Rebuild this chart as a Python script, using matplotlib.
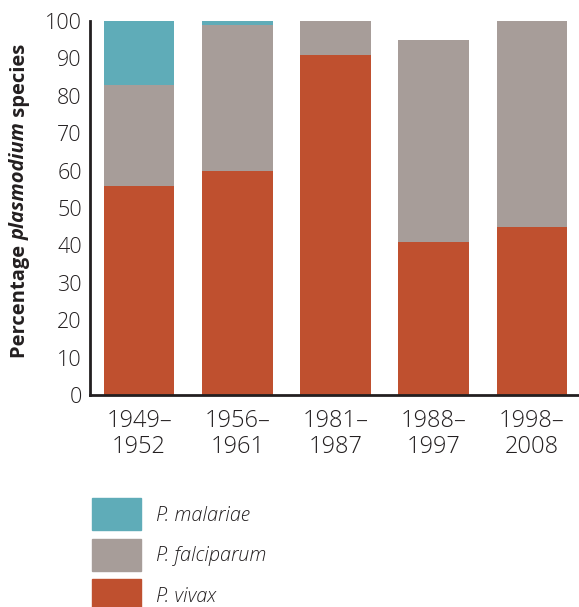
import matplotlib
matplotlib.use("Agg")
import matplotlib.pyplot as plt
from matplotlib.patches import Rectangle
import numpy as np

# data
periods = ["1949–\n1952", "1956–\n1961", "1981–\n1987", "1988–\n1997", "1998–\n2008"]
vivax = [56, 60, 91, 41, 45]
falciparum = [27, 39, 9, 54, 55]
malariae = [17, 1, 0, 0, 0]

species = ["P. malariae", "P. falciparum", "P. vivax"]
colors = {"P. vivax": "#bf502f", "P. falciparum": "#a79d99", "P. malariae": "#5facb8"}
ink = "#231f20"

plt.rcParams["font.family"] = ["Open Sans", "DejaVu Sans"]

fig = plt.figure(figsize=(5.79, 6.07), dpi=100)
ax = fig.add_axes([90 / 579, 1 - 395 / 607, 1 - 90 / 579, 374 / 607])

x = np.arange(len(periods))
w = 0.72
ax.bar(x, vivax, w, color=colors["P. vivax"])
ax.bar(x, falciparum, w, bottom=vivax, color=colors["P. falciparum"])
bottom2 = np.array(vivax) + np.array(falciparum)
ax.bar(x, malariae, w, bottom=bottom2, color=colors["P. malariae"])

ax.set_xlim(-0.5, 4.48)
ax.set_ylim(0, 100)
ax.set_yticks(range(0, 101, 10))
ax.set_xticks(x)
ax.set_xticklabels(periods, fontsize=17, color=ink, linespacing=1.12, fontweight=300)
for lab in ax.get_yticklabels():
    lab.set_fontweight(300)
ax.tick_params(axis="y", length=0, labelsize=15.5, labelcolor=ink, pad=6)
ax.tick_params(axis="x", length=0, pad=10)
for s in ["top", "right"]:
    ax.spines[s].set_visible(False)
for s in ["left", "bottom"]:
    ax.spines[s].set_linewidth(2)
    ax.spines[s].set_color(ink)

# y label with italic middle word, built from pieces
fig.canvas.draw()
r = fig.canvas.get_renderer()
pieces = [("Percentage ", "normal"), ("plasmodium", "italic"), (" species", "normal")]
ypos = 358
xbase = 25
for txt, st in pieces:
    t = fig.text(xbase / 579, 1 - ypos / 607, txt, rotation=90, rotation_mode="anchor",
                 ha="left", va="baseline", fontsize=14.5, fontweight="bold",
                 fontstyle=st, color=ink)
    bb = t.get_window_extent(r)
    ypos -= bb.height

# legend drawn as patches + labels
for i, name in enumerate(species):
    top = 498 + i * 40.5
    fig.patches.append(Rectangle((92 / 579, 1 - (top + 32) / 607), 49 / 579, 32 / 607,
                                 transform=fig.transFigure, color=colors[name]))
    fig.text(156 / 579, 1 - (top + 18) / 607, name, fontsize=14.3, fontstyle="italic",
             fontweight=300, color=ink, va="center", ha="left")

fig.savefig("out.png", dpi=100)
